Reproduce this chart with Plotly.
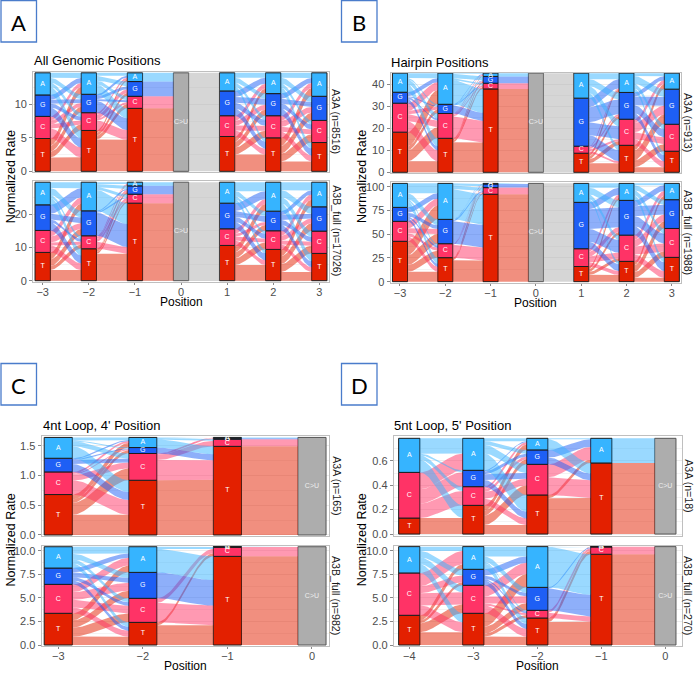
import numpy as np
import plotly.graph_objects as go

W, H = 700, 676
BASES = ['T', 'C', 'G', 'A']
BASE_COLORS = ['#E32000', '#FF3366', '#1E5FF5', '#36B4FF']
FLOW_COLORS = ['rgba(227,32,0,0.5)', 'rgba(255,51,102,0.5)', 'rgba(30,95,245,0.5)', 'rgba(54,180,255,0.5)']
GRAY = '#ADADAD'
GRAY_FLOW = 'rgba(173,173,173,0.5)'
STRATUM_W = 0.333

all_pos = [-3, -2, -1, 0, 1, 2, 3]
hairpin_pos = [-3, -2, -1, 0, 1, 2, 3]
loop4_pos = [-3, -2, -1, 0]
loop5_pos = [-4, -3, -2, -1, 0]

# stratum heights, bottom to top: T, C, G, A. position 0 is the single C>U stratum
all_a3a = [[4.9, 3.3, 3.2, 3.3], [6.1, 2.65, 2.75, 3.2], [9.4, 1.8, 2.2, 1.3], [14.7],
           [5.2, 3.1, 3.7, 2.7], [5.0, 3.3, 3.3, 3.1], [4.3, 3.3, 3.6, 3.5]]
all_a3b = [[8.5, 6.6, 7.7, 6.8], [9.6, 3.9, 7.5, 8.6], [23.3, 2.7, 2.5, 1.1], [29.6],
           [10.6, 5.0, 7.7, 6.3], [9.4, 5.6, 5.9, 8.7], [8.2, 6.7, 7.3, 7.4]]
hairpin_a3a = [[18.3, 13.2, 5.0, 8.7], [15.5, 11.3, 4.2, 14.2], [38, 2.6, 3.1, 1.5], [45.2],
               [8.7, 3.2, 21.9, 11.4], [12.3, 11.9, 12.2, 8.8], [9.6, 12.3, 16, 7.3]]
hairpin_a3b = [[42.5, 21, 14.7, 25.3], [25.3, 14.7, 25.6, 37.9], [92, 7, 3.8, 0.7], [103.5],
               [16, 18.7, 48.8, 20], [21.4, 27.6, 36.6, 17.9], [25.6, 30.4, 30.3, 17.2]]
loop4_a3a = [[0.68, 0.38, 0.23, 0.35], [0.92, 0.45, 0.10, 0.17], [1.49, 0.12, 0.015, 0.015], [1.64]]
loop4_a3b = [[3.36, 3.07, 1.73, 2.26], [2.4, 2.55, 2.75, 2.72], [9.4, 0.99, 0.01, 0.02], [10.42]]
loop5_a3a = [[0.131, 0.374, 0, 0.279], [0.235, 0.153, 0.134, 0.262], [0.32, 0.251, 0.118, 0.095],
             [0.582, 0, 0, 0.202], [0.784]]
loop5_a3b = [[3.16, 4.5, 0, 2.8], [3.37, 2.98, 1.7, 2.41], [2.87, 0.82, 2.44, 4.33],
             [9.65, 0.79, 0.01, 0.01], [10.46]]

# flow shares between neighbouring positions, row = left base, column = right base
all_a3a_flows = [
    [[14, 6, 6, 7], [10, 4, 4, 4], [9, 4, 4, 5], [8, 4, 5, 5]],
    [[32, 4, 3, 2], [10, 2, 4, 2], [12, 2, 3, 2], [10, 4, 5, 3]],
    None, None,
    [[17, 7, 6, 5], [6, 5, 5, 5], [7, 6, 6, 6], [4, 4, 5, 5]],
    [[10, 8, 8, 8], [6, 5, 6, 5], [7, 5, 5, 5], [6, 4, 6, 5]],
]
all_a3b_flows = [
    [[11, 4, 7, 7], [7, 3, 6, 6], [8, 3, 6, 9], [7, 3, 7, 6]],
    [[27, 2, 2, 1], [7, 3, 2, 1], [23, 1, 1, 0], [21, 3, 3, 2]],
    None, None,
    [[16, 7, 6, 7], [5, 4, 3, 5], [7, 5, 6, 8], [4, 3, 5, 9]],
    [[9, 8, 8, 7], [5, 4, 5, 5], [6, 5, 5, 4], [8, 6, 7, 8]],
]
hairpin_a3a_flows = [
    [[11, 11, 4, 14], [11, 7, 3, 8], [4, 2, 1, 4], [8, 5, 1.5, 5]],
    [[30, 2, 1.5, 0.5], [22, 1.5, 1, 0.5], [8, 0.5, 0.5, 0.5], [24, 2, 4.5, 0.5]],
    None, None,
    [[9, 4, 3, 3], [2, 2, 2, 1], [11, 13, 15, 9], [5, 7, 7, 6]],
    [[5, 7, 10, 5], [6, 7, 9, 4], [6, 8, 9, 4], [4, 5, 8, 3]],
]
hairpin_a3b_flows = [
    [[10, 7, 10, 14], [5, 3, 5, 7], [3, 2, 4, 5.5], [6, 2, 6, 10]],
    [[21.5, 1.5, 0.7, 0.3], [13, 0.8, 0.3, 0.1], [23, 1.5, 0.4, 0.1], [31, 3.7, 2, 0.2]],
    None, None,
    [[7, 3, 3, 2.5], [4, 6, 5, 3], [7, 13, 20, 7], [3, 5, 7, 4.5]],
    [[4, 6, 7, 4], [7, 8, 7, 5], [9, 10, 10, 6], [5, 5, 5, 2]],
]
loop4_a3a_flows = [
    [[20.5, 12, 3.5, 5], [15, 6, 1, 2], [8, 4, 1, 1], [12, 5, 1, 3]],
    [[56, 0, 0, 0], [20, 5, 1, 0.5], [6, 0, 0, 0], [8, 1.5, 0.3, 0.2]],
    None,
]
loop4_a3b_flows = [
    [[8.5, 9, 7.5, 7], [6, 8, 8, 8], [4, 3.5, 5, 4.5], [4.5, 4, 5.5, 7]],
    [[20, 3, 0, 0], [20, 4.5, 0, 0], [26, 0, 0, 0], [24, 2, 0.1, 0.2]],
    None,
]
loop5_a3a_flows = [
    [[16.7, 0, 0, 0], [0, 15, 15, 17.5], [0, 0, 0, 0], [13, 4.5, 2, 16]],
    [[9.4, 10, 5, 5.6], [7, 7, 3, 2.5], [7, 6, 3, 1], [17.5, 9, 4, 3]],
    [[37.6, 0, 0, 3.4], [18.5, 0, 0, 13.5], [7, 0, 0, 8], [11, 0, 0, 1]],
    None,
]
loop5_a3b_flows = [
    [[13, 9, 3, 5], [10, 12.5, 7, 13.5], [0, 0, 0, 0], [9, 7, 6.5, 4.5]],
    [[8.5, 3, 7, 13.5], [8, 2, 7, 11.5], [5, 1.5, 3.5, 6.5], [6, 1.5, 5.5, 10]],
    [[23.4, 3.5, 0.3, 0.3], [5.4, 2.5, 0, 0], [22, 1, 0, 0], [41, 0.5, 0, 0]],
    None,
]

# facet boxes in page pixels: left, right, top, bottom, then axis ranges and ticks
FACETS = [
    dict(pos=all_pos, stacks=all_a3a, flows=all_a3a_flows, px=(33.3, 329, 71.7, 172),
         xr=[-3.204, 3.21], yr=[-0.1, 14.87], ticks=[0, 5, 10], fmt='d', strip='A3A (n=8516)', strip_px=(336.7, 121.7)),
    dict(pos=all_pos, stacks=all_a3b, flows=all_a3b_flows, px=(33.3, 329, 181, 282),
         xr=[-3.204, 3.21], yr=[-0.39, 29.96], ticks=[0, 10, 20], fmt='d', strip='A3B_full (n=17026)', strip_px=(336.7, 231)),
    dict(pos=hairpin_pos, stacks=hairpin_a3a, flows=hairpin_a3a_flows, px=(390.7, 680.7, 72.7, 173.3),
         xr=[-3.205, 3.196], yr=[-0.46, 45.4], ticks=[0, 10, 20, 30, 40], fmt='d', strip='A3A (n=913)', strip_px=(688, 122)),
    dict(pos=hairpin_pos, stacks=hairpin_a3b, flows=hairpin_a3b_flows, px=(390.7, 680.7, 182.3, 282.7),
         xr=[-3.205, 3.196], yr=[-1.05, 104.6], ticks=[0, 25, 50, 75, 100], fmt='d', strip='A3B_full (n=1988)', strip_px=(688, 232)),
    dict(pos=loop4_pos, stacks=loop4_a3a, flows=loop4_a3a_flows, px=(41.7, 329.3, 436, 536),
         xr=[-3.196, 0.205], yr=[-0.017, 1.664], ticks=[0, 0.5, 1, 1.5], fmt='.1f', strip='A3A (n=165)', strip_px=(336.7, 486)),
    dict(pos=loop4_pos, stacks=loop4_a3b, flows=loop4_a3b_flows, px=(41.7, 329.3, 545.7, 646),
         xr=[-3.196, 0.205], yr=[-0.106, 10.53], ticks=[0, 2.5, 5, 7.5, 10], fmt='.1f', strip='A3B_full (n=982)', strip_px=(336.7, 595.7)),
    dict(pos=loop5_pos, stacks=loop5_a3a, flows=loop5_a3a_flows, px=(394, 681.7, 436, 536),
         xr=[-4.239, 0.256], yr=[-0.016, 0.803], ticks=[0, 0.2, 0.4, 0.6], fmt='.1f', strip='A3A (n=18)', strip_px=(688.7, 486)),
    dict(pos=loop5_pos, stacks=loop5_a3b, flows=loop5_a3b_flows, px=(394, 681.7, 545.7, 646),
         xr=[-4.239, 0.256], yr=[-0.106, 10.56], ticks=[0, 2.5, 5, 7.5, 10], fmt='.1f', strip='A3B_full (n=270)', strip_px=(688.7, 595.7)),
]

TITLES = [('All Genomic Positions', 32, 61), ('Hairpin Positions', 389.5, 62),
          ("4nt Loop, 4' Position", 40.5, 425.7), ("5nt Loop, 5' Position", 392, 425.7)]
YLABELS = [(10.5, 176.7), (362, 177), (10.5, 540), (362.3, 540)]
XLABELS = [(181, 301.7), (535.7, 303), (185.3, 665.7), (537.3, 665.7)]
LETTERS = [('A', 1, 36.5, 0.5, 42), ('B', 341.5, 377, 0.5, 42), ('C', 1, 36.5, 363.5, 405), ('D', 341.5, 377, 363.5, 405)]

FONT = 'Liberation Sans'


def px(x):
    return x / W


def py(y):
    return 1 - y / H


def label(text, x, y, size, color='black', family=FONT, angle=0, xanchor='center'):
    return dict(text=text, x=px(x), y=py(y), xref='paper', yref='paper', xanchor=xanchor, yanchor='middle',
                showarrow=False, textangle=angle, font=dict(family=family, size=size, color=color))


def ribbon(fig, ax, x0, x1, lb, lt, rb, rt, color):
    t = np.linspace(0, 1, 40)
    s = t * t * (3 - 2 * t)
    xs = x0 + (x1 - x0) * t
    low = lb + (rb - lb) * s
    high = lt + (rt - lt) * s
    fig.add_trace(go.Scatter(
        x=np.concatenate([xs, xs[::-1]]), y=np.concatenate([low, high[::-1]]),
        mode='lines', line=dict(width=0), fill='toself', fillcolor=color,
        hoverinfo='skip', showlegend=False, xaxis='x' + ax, yaxis='y' + ax))


def add_flows(fig, ax, facet):
    pos, stacks, flows = facet['pos'], facet['stacks'], facet['flows']
    for k, matrix in enumerate(flows):
        x0, x1 = pos[k] + STRATUM_W / 2, pos[k + 1] - STRATUM_W / 2
        left, right = stacks[k], stacks[k + 1]
        if matrix is None:
            # flat bands in and out of the C>U stratum
            heights = left if len(left) == 4 else right
            if len(left) == 1:
                ribbon(fig, ax, x0, x1, 0, left[0], 0, left[0], GRAY_FLOW)
                continue
            base = 0
            for i, h in enumerate(heights):
                if h > 0:
                    ribbon(fig, ax, x0, x1, base, base + h, base, base + h, FLOW_COLORS[i])
                base += h
            continue
        m = np.array(matrix, dtype=float)
        row_sum = m.sum(axis=1)
        col_sum = m.sum(axis=0)
        l_start = np.concatenate([[0], np.cumsum(left)[:-1]])
        r_start = np.concatenate([[0], np.cumsum(right)[:-1]])
        l_used = [0.0] * 4
        r_used = [0.0] * 4
        for i in range(4):
            for j in range(4):
                if m[i, j] <= 0:
                    continue
                lh = left[i] * m[i, j] / row_sum[i]
                rh = right[j] * m[i, j] / col_sum[j]
                lb = l_start[i] + l_used[i]
                rb = r_start[j] + r_used[j]
                ribbon(fig, ax, x0, x1, lb, lb + lh, rb, rb + rh, FLOW_COLORS[i])
                l_used[i] += lh
                r_used[j] += rh


def add_strata(fig, ax, facet):
    for p, stack in zip(facet['pos'], facet['stacks']):
        base = 0
        names = BASES if len(stack) == 4 else ['C>U']
        colors = BASE_COLORS if len(stack) == 4 else [GRAY]
        line = '#1c1c1c' if len(stack) == 4 else '#555555'
        for name, h, color in zip(names, stack, colors):
            if h > 0:
                fig.add_trace(go.Bar(
                    x=[p], y=[h], base=[base], width=[STRATUM_W],
                    marker=dict(color=color, line=dict(color=line, width=1)),
                    hoverinfo='skip', showlegend=False, xaxis='x' + ax, yaxis='y' + ax))
                fig.add_trace(go.Scatter(
                    x=[p], y=[base + h / 2], text=[name], mode='text',
                    textfont=dict(family=FONT, size=7, color='white' if len(stack) == 4 else '#eeeeee'),
                    hoverinfo='skip', showlegend=False, xaxis='x' + ax, yaxis='y' + ax))
            base += h


fig = go.Figure()
layout = {}
annotations = []
shapes = []

for n, facet in enumerate(FACETS):
    ax = str(n + 1)
    add_flows(fig, ax, facet)
    add_strata(fig, ax, facet)
    left, right, top, bottom = facet['px']
    lower = n % 2 == 1
    layout['xaxis' + ax] = dict(
        domain=[px(left), px(right)], range=facet['xr'], anchor='y' + ax,
        tickvals=facet['pos'], ticks='outside' if lower else '', showticklabels=lower,
        ticklen=2, tickcolor='#888888', ticklabelstandoff=-2, tickfont=dict(family=FONT, size=11, color='#4d4d4d'),
        showgrid=False, zeroline=False, showline=True, mirror=True,
        linecolor='#bfbfbf', linewidth=1.3)
    step = facet['ticks'][1] - facet['ticks'][0]
    layout['yaxis' + ax] = dict(
        domain=[py(bottom), py(top)], range=facet['yr'], anchor='x' + ax,
        tickvals=facet['ticks'], tickformat=facet['fmt'], ticks='outside', ticklen=3,
        tickcolor='#888888', tickfont=dict(family=FONT, size=11, color='#4d4d4d'),
        showgrid=True, gridcolor='#ececec', gridwidth=0.7, zeroline=False,
        minor=dict(dtick=step / 2, showgrid=True, gridcolor='#f3f3f3', gridwidth=0.4),
        showline=True, mirror=True, linecolor='#bfbfbf', linewidth=1.3)
    annotations.append(label(facet['strip'], facet['strip_px'][0], facet['strip_px'][1], 10.6, '#1a1a1a', angle=90))

for text, x, y in TITLES:
    annotations.append(label(text, x, y, 13, xanchor='left'))
for x, y in YLABELS:
    annotations.append(label('Normalized Rate', x, y, 12.5, angle=-90))
for x, y in XLABELS:
    annotations.append(label('Position', x, y, 12))
for letter, x0, x1, y0, y1 in LETTERS:
    shapes.append(dict(type='rect', xref='paper', yref='paper', x0=px(x0), x1=px(x1), y0=py(y0), y1=py(y1),
                       line=dict(color='#4A7CCB', width=1.3)))
    annotations.append(label(letter, (x0 + x1) / 2, (y0 + y1) / 2 + 1, 22, family='Lato'))

fig.update_layout(
    width=W, height=H, margin=dict(l=0, r=0, t=0, b=0, autoexpand=False), autosize=False,
    paper_bgcolor='white', plot_bgcolor='white', showlegend=False,
    annotations=annotations, shapes=shapes, barmode='overlay', **layout)

fig.write_html("out.html", config={'displayModeBar': False}, post_script="document.body.style.margin='0';")
